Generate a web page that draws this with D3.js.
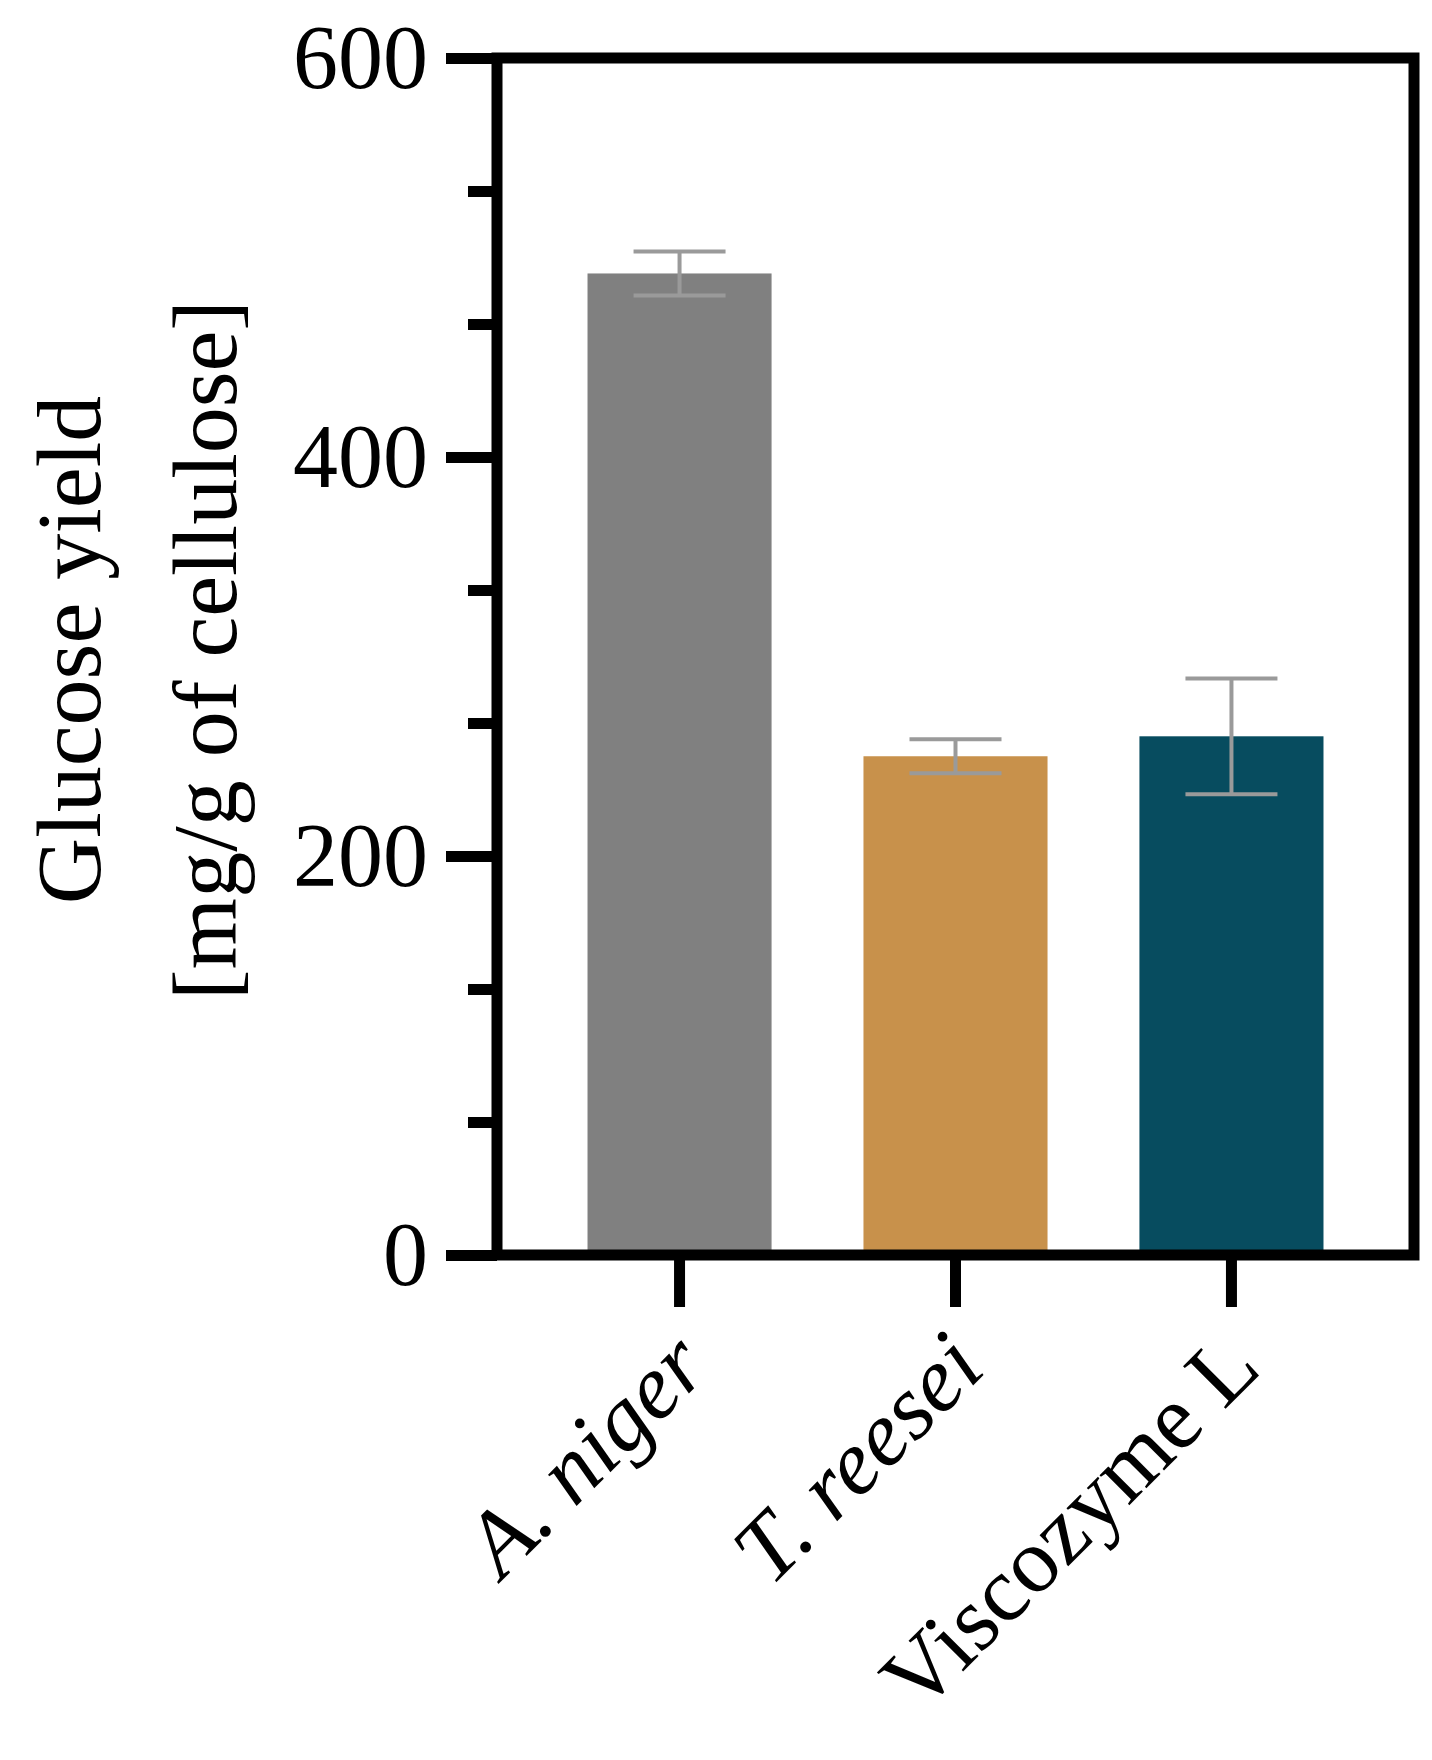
<!DOCTYPE html>
<html>
<head>
<meta charset="utf-8">
<script src="https://cdn.jsdelivr.net/npm/d3@7"></script>
<style>
  html, body { margin: 0; padding: 0; background: #fff; }
  svg { display: block; }
</style>
</head>
<body>
<div id="chart"></div>
<script>
const categories = ["A. niger", "T. reesei", "Viscozyme L"];
const italicLabel = [true, true, false];
const means = [492, 250, 260];
const errors = [11, 8.5, 29];
const barColors = ["#808080", "#C8914B", "#074C5F"];
const yMajorTicks = [0, 200, 400, 600];
const yMinorTicks = [66.67, 133.33, 266.67, 333.33, 466.67, 533.33];
const yTitleLines = ["Glucose yield", "[mg/g of cellulose]"];

(function () {
const W = 1432, H = 1760;
const pLeft = 497, pRight = 1414, pTop = 58, pBottom = 1255;
const FONT = "'Liberation Serif', 'Times New Roman', serif";

const svg = d3.select("#chart").append("svg")
  .attr("width", W).attr("height", H)
  .style("background", "#fff");

const y = d3.scaleLinear().domain([0, 600]).range([pBottom, pTop]);
const x = d3.scaleBand().domain(categories).range([pLeft, pRight])
  .paddingInner(0.333).paddingOuter(0.328);

const data = categories.map((c, i) => ({c, m: means[i], e: errors[i], col: barColors[i], it: italicLabel[i]}));

// bars
svg.append("g").selectAll("rect").data(data).join("rect")
  .attr("x", d => x(d.c))
  .attr("width", x.bandwidth())
  .attr("y", d => y(d.m))
  .attr("height", d => y(0) - y(d.m))
  .attr("fill", d => d.col);

// error bars
const eb = svg.append("g").attr("stroke", "#9a9a9a").attr("stroke-width", 4).attr("fill", "none");
data.forEach(d => {
  const cx = x(d.c) + x.bandwidth() / 2;
  const capW = 46;
  eb.append("line").attr("x1", cx).attr("x2", cx).attr("y1", y(d.m - d.e)).attr("y2", y(d.m + d.e));
  eb.append("line").attr("x1", cx - capW).attr("x2", cx + capW).attr("y1", y(d.m + d.e)).attr("y2", y(d.m + d.e));
  eb.append("line").attr("x1", cx - capW).attr("x2", cx + capW).attr("y1", y(d.m - d.e)).attr("y2", y(d.m - d.e));
});

// y axis major
const yAxis = svg.append("g").attr("transform", `translate(${pLeft},0)`)
  .call(d3.axisLeft(y).tickValues(yMajorTicks).tickSize(51).tickPadding(18).tickFormat(d3.format("d")));
yAxis.select(".domain").remove();
yAxis.selectAll(".tick line").attr("stroke", "#000").attr("stroke-width", 11);
yAxis.selectAll(".tick text").attr("font-family", FONT).attr("font-size", 90).attr("fill", "#000").attr("dy", "0.33em");

// y axis minor
const yMinor = svg.append("g").attr("transform", `translate(${pLeft},0)`)
  .call(d3.axisLeft(y).tickValues(yMinorTicks).tickSize(29).tickFormat(""));
yMinor.select(".domain").remove();
yMinor.selectAll(".tick line").attr("stroke", "#000").attr("stroke-width", 11);

// x axis ticks
const xAxis = svg.append("g").attr("transform", `translate(0,${pBottom})`)
  .call(d3.axisBottom(x).tickSize(52).tickFormat(""));
xAxis.select(".domain").remove();
xAxis.selectAll(".tick line").attr("stroke", "#000").attr("stroke-width", 11);

// frame
svg.append("rect")
  .attr("x", pLeft).attr("y", pTop)
  .attr("width", pRight - pLeft).attr("height", pBottom - pTop)
  .attr("fill", "none").attr("stroke", "#000").attr("stroke-width", 11);

// x labels
svg.append("g").selectAll("text").data(data).join("text")
  .attr("transform", d => `translate(${x(d.c) + x.bandwidth() / 2 + 32},${pBottom + 116}) rotate(-45)`)
  .attr("text-anchor", "end")
  .attr("font-family", FONT)
  .attr("font-size", 92)
  .attr("font-style", d => d.it ? "italic" : "normal")
  .attr("fill", "#000")
  .text(d => d.c);

// y title
const yt = svg.append("text")
  .attr("transform", "translate(100,650) rotate(-90)")
  .attr("text-anchor", "middle")
  .attr("font-family", FONT)
  .attr("font-size", 92)
  .attr("fill", "#000");
yTitleLines.forEach((t, i) => {
  yt.append("tspan").attr("x", 0).attr("y", i * 136).text(t);
});
})();
</script>
</body>
</html>
